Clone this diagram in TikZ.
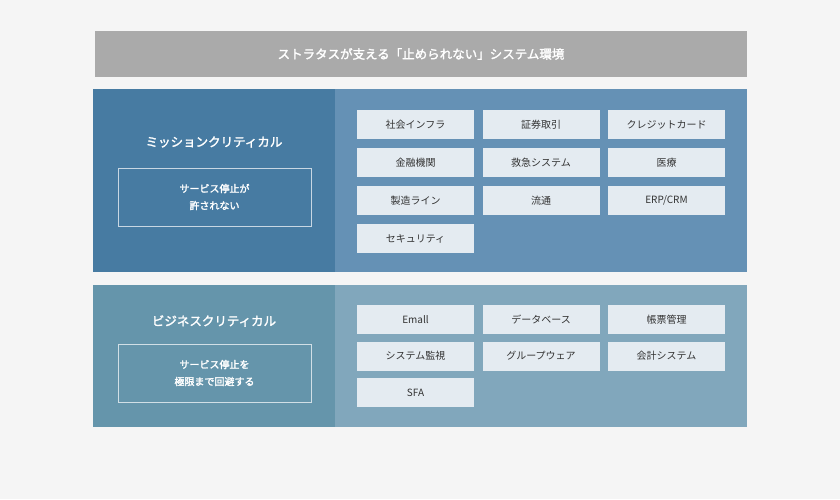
\documentclass[tikz,border=0pt]{standalone}
\usepackage{fontspec}
\setmainfont{Noto Sans CJK JP}[AutoFakeBold=2]
\usetikzlibrary{positioning}
\definecolor{pagebg}{HTML}{F5F5F5}
\definecolor{titlegray}{HTML}{AAAAAA}
\definecolor{missionL}{HTML}{477BA2}
\definecolor{missionR}{HTML}{6591B5}
\definecolor{businessL}{HTML}{6595AB}
\definecolor{businessR}{HTML}{81A7BC}
\definecolor{cellfill}{HTML}{E4EBF1}
\definecolor{celltext}{HTML}{333333}
\tikzset{% styles for the picture
	cell/.style={fill=cellfill, minimum width=117pt, minimum height=29pt, inner sep=0pt, text=celltext, font=\fontsize{10}{12}\selectfont},
	heading/.style={text=white, font=\bfseries\fontsize{12.5}{14}\selectfont},
	notebox/.style={draw=white!70!missionL, line width=0.8pt, minimum width=193pt, minimum height=58pt, align=center, text=white, font=\bfseries\fontsize{10}{17}\selectfont},
}
\begin{document}
\begin{tikzpicture}[x=1pt,y=-1pt]
	\fill[pagebg] (0,0) rectangle (840,499);
	\useasboundingbox (0,0) rectangle (840,499);
	% title bar
	\fill[titlegray] (95,31) rectangle (747,77);
	\node[text=white, font=\bfseries\fontsize{12.5}{14}\selectfont] (title) at (421,54) {ストラタスが支える「止められない」システム環境};
	% blocks
	\fill[missionL] (93,89) rectangle (335,272);
	\fill[missionR] (335,89) rectangle (747,272);
	\fill[businessL] (93,285) rectangle (335,427);
	\fill[businessR] (335,285) rectangle (747,427);
	% mission critical
	\node[heading] (mc) at (214,142) {ミッションクリティカル};
	\node[notebox] (mcnote) at (214.5,197) {サービス停止が\\許されない};
	\foreach \txt [count=\i from 0] in {社会インフラ,証券取引,クレジットカード,金融機関,救急システム,医療,製造ライン,流通,ERP/CRM,セキュリティ}{
		\pgfmathtruncatemacro{\c}{mod(\i,3)}
		\pgfmathtruncatemacro{\r}{div(\i,3)}
		\node[cell] (mc-\i) at (415.5+125.5*\c, 124.5+38*\r) {\txt};
	}
	% business critical
	\node[heading] (bc) at (214,321) {ビジネスクリティカル};
	\node[notebox, draw=white!70!businessL] (bcnote) at (214.5,373) {サービス停止を\\極限まで回避する};
	\foreach \txt [count=\i from 0] in {Emall,データベース,帳票管理,システム監視,グループウェア,会計システム,SFA}{
		\pgfmathtruncatemacro{\c}{mod(\i,3)}
		\pgfmathtruncatemacro{\r}{div(\i,3)}
		\node[cell] (bc-\i) at (415.5+125.5*\c, 319.5+36.5*\r) {\txt};
	}
\end{tikzpicture}
\end{document}
